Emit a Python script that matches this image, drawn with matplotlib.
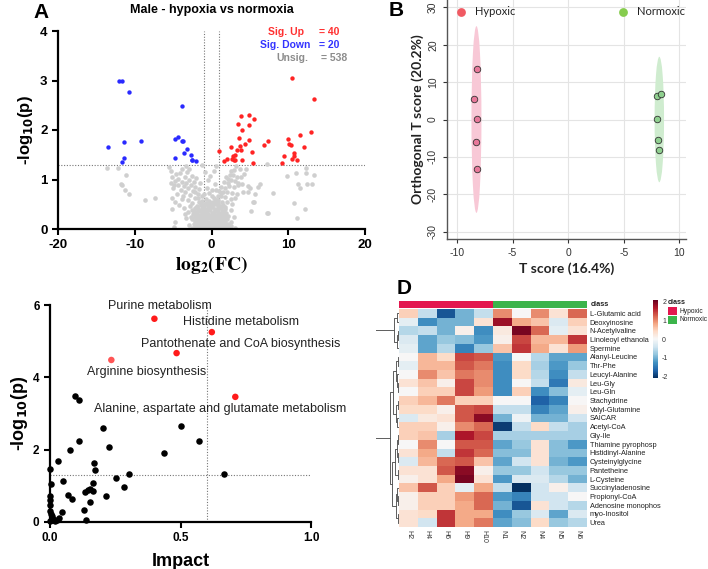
import matplotlib.pyplot as plt
import numpy as np
from matplotlib.patches import Ellipse, Rectangle
from matplotlib.colors import ListedColormap

plt.rcParams['font.family'] = ['Liberation Sans', 'DejaVu Sans']
plt.rcParams['axes.unicode_minus'] = False

# ---------------- A: volcano plot ----------------
up_x = [10.5, 13.4, 3.83, 4.83, 5.5, 4.9, 3.43, 3.96, 3.57, 4.83, 4.35, 3.74, 2.57, 0.96, 3.35,
        3.83, 5.3, 3.09, 2.74, 1.96, 1.61, 2.65, 2.91, 3.09, 3.96, 5.43, 6.83, 7.3, 10.0, 10.1,
        10.4, 11.5, 12.96, 12.0, 10.8, 10.7, 10.5, 9.4, 9.2, 11.1]
up_y = [3.06, 2.63, 2.28, 2.30, 2.22, 2.11, 2.13, 1.99, 1.83, 1.80, 1.71, 1.68, 1.66, 1.58, 1.59,
        1.59, 1.55, 1.50, 1.47, 1.42, 1.37, 1.42, 1.39, 1.39, 1.39, 1.34, 1.69, 1.78, 1.81, 1.71,
        1.70, 1.90, 1.95, 1.66, 1.53, 1.47, 1.42, 1.47, 1.34, 1.39]
down_x = [-12.04, -11.6, -10.7, -13.5, -11.4, -9.2, -11.4, -11.6, -3.8, -4.7,
          -4.35, -3.9, -3.7, -3.17, -3.57, -2.7, -4.8, -2.57, -2.48, -1.96]
down_y = [2.99, 3.0, 2.77, 1.66, 1.76, 1.78, 1.43, 1.35, 2.48, 1.81,
          1.85, 1.78, 1.78, 1.61, 1.53, 1.49, 1.43, 1.39, 1.39, 1.37]

gray_outer = [(-13.6, 1.23), (-12.2, 1.23), (-11.2, 1.10), (-11.8, 0.90), (-11.6, 0.88), (-11.3, 0.79),
              (-10.7, 0.70), (-8.7, 0.59), (-7.4, 0.63), (-5.6, 1.25), (-5.3, 1.18), (-5.1, 0.40),
              (-4.75, 0.15), (-4.9, 0.04), (7.2, 1.31), (9.9, 1.08), (11.0, 1.14), (12.3, 1.23),
              (12.3, 1.14), (13.3, 1.09), (11.3, 0.90), (11.5, 0.82), (12.5, 0.90), (13.1, 0.90),
              (8.0, 0.73), (10.7, 0.52), (12.2, 0.40), (11.2, 0.22), (7.3, 0.32), (5.6, 0.55),
              (5.1, 0.37), (4.8, 0.75), (6.3, 0.90), (6.1, 0.85), (5.65, 0.70), (5.0, 0.82),
              (4.5, 1.22), (3.7, 1.21), (4.2, 1.12), (3.9, 1.06), (4.15, 0.75), (4.0, 0.90),
              (4.8, 0.86), (3.3, 0.70), (3.1, 0.63), (3.5, 0.92), (5.45, 0.55), (7.2, 0.32)]
gray_left = [(-5.1, 1.06), (-5.0, 0.82), (-4.8, 0.97), (-4.6, 1.12), (-4.4, 0.88), (-4.3, 1.02),
             (-4.1, 1.13), (-4.0, 0.78), (-3.9, 0.95), (-3.8, 1.21), (-3.7, 0.66), (-3.6, 0.86),
             (-3.5, 1.05), (-3.4, 0.74), (-3.3, 0.93), (-3.2, 1.16), (-3.1, 0.58), (-3.0, 0.82),
             (-2.9, 1.00), (-2.8, 0.69), (-2.7, 0.88), (-2.6, 1.08), (-2.5, 0.52), (-2.4, 0.77),
             (-2.3, 0.95), (-2.2, 0.62), (-2.1, 0.84), (-2.0, 1.04), (-1.9, 0.47), (-1.8, 0.71),
             (-5.2, 0.63), (-4.7, 0.55), (-4.5, 0.71), (-4.2, 0.48), (-3.9, 0.60), (-3.6, 0.43),
             (-4.9, 0.88), (-5.3, 0.92), (-3.3, 1.27), (-2.9, 1.22)]
gray_right = [(3.2, 1.27), (2.9, 1.20), (2.8, 1.09), (2.6, 1.17), (2.5, 0.98), (2.4, 1.10), (2.3, 0.86),
              (2.2, 1.02), (2.1, 0.92), (2.0, 0.75), (1.9, 1.05), (1.8, 0.83), (1.7, 0.64), (1.6, 0.95),
              (1.5, 0.74), (1.4, 0.55), (1.3, 0.85), (1.2, 0.66), (1.1, 0.47), (1.0, 0.77), (0.9, 0.58),
              (0.8, 0.40), (2.7, 0.72), (2.5, 0.61), (2.9, 0.84), (3.0, 0.97), (3.3, 1.05), (2.0, 0.55),
              (1.8, 0.45), (1.6, 0.35), (3.4, 0.88), (2.7, 0.50)]
gray_mid = [(-1.3, 1.29), (-0.9, 1.15), (-0.5, 0.98), (0.3, 1.18), (-0.6, 0.82), (-1.0, 0.70),
            (0.0, 0.66), (0.4, 0.90), (-1.5, 0.92), (0.6, 1.28), (0.1, 0.78), (-0.2, 1.08)]
gray_core = [(-1.6, 0.55), (-1.2, 0.57), (-0.7, 0.53), (-0.3, 0.56), (0.2, 0.54), (0.6, 0.58),
             (-1.4, 0.48), (-1.0, 0.46), (-0.5, 0.49), (0.0, 0.47), (0.4, 0.50),
             (-2.1, 0.42), (-1.7, 0.41), (-1.3, 0.43), (-0.9, 0.40), (-0.4, 0.42), (0.1, 0.44), (0.5, 0.41), (1.2, 0.43),
             (-2.3, 0.36), (-1.9, 0.35), (-1.5, 0.37), (-1.1, 0.34), (-0.7, 0.36), (-0.2, 0.38), (0.3, 0.35),
             (0.7, 0.37), (1.0, 0.33), (1.4, 0.36),
             (-2.0, 0.30), (-1.6, 0.29), (-1.2, 0.31), (-0.8, 0.28), (-0.4, 0.30), (0.0, 0.32), (0.4, 0.29),
             (0.8, 0.31), (1.2, 0.28), (1.6, 0.30),
             (-2.2, 0.25), (-1.8, 0.24), (-1.4, 0.26), (-1.0, 0.23), (-0.6, 0.25), (-0.2, 0.27), (0.2, 0.24),
             (0.6, 0.26), (1.0, 0.23), (1.3, 0.25), (1.8, 0.26),
             (-2.5, 0.20), (-1.9, 0.19), (-1.5, 0.21), (-1.1, 0.18), (-0.7, 0.20), (-0.3, 0.22), (0.1, 0.19),
             (0.5, 0.21), (0.9, 0.18), (1.2, 0.20), (1.5, 0.19), (2.0, 0.21),
             (-2.0, 0.15), (-1.6, 0.14), (-1.2, 0.16), (-0.8, 0.13), (-0.4, 0.15), (0.0, 0.17), (0.3, 0.14),
             (0.7, 0.16), (1.1, 0.13), (1.4, 0.15), (1.8, 0.14),
             (-2.3, 0.10), (-1.7, 0.09), (-1.3, 0.11), (-0.9, 0.08), (-0.5, 0.10), (-0.1, 0.12), (0.2, 0.09),
             (0.6, 0.11), (1.0, 0.08), (1.3, 0.10), (1.7, 0.09), (2.2, 0.11),
             (-1.9, 0.06), (-1.5, 0.05), (-1.1, 0.07), (-0.7, 0.04), (-0.3, 0.06), (0.1, 0.05), (0.4, 0.07),
             (0.8, 0.04), (1.2, 0.06), (1.6, 0.05), (2.0, 0.07),
             (-2.6, 0.02), (-1.8, 0.01), (-1.4, 0.03), (-1.0, 0.02), (-0.6, 0.01), (-0.2, 0.03), (0.2, 0.02),
             (0.5, 0.01), (0.9, 0.03), (1.4, 0.02), (1.9, 0.01), (3.0, 0.02)]
gray_core2 = [(-1.4, 0.52), (-0.9, 0.51), (-0.1, 0.52), (0.4, 0.55), (0.9, 0.52), (-1.9, 0.45), (-1.1, 0.44),
              (-0.2, 0.45), (0.8, 0.46), (1.5, 0.48), (-2.6, 0.38), (-1.3, 0.38), (-0.5, 0.39), (0.5, 0.38),
              (1.7, 0.40), (-2.4, 0.31), (-1.0, 0.30), (0.2, 0.31), (1.0, 0.31), (1.9, 0.33), (-2.7, 0.25),
              (-1.2, 0.22), (0.4, 0.22), (1.5, 0.23), (2.2, 0.27), (-2.2, 0.16), (-1.0, 0.15), (0.5, 0.14),
              (1.6, 0.17), (2.5, 0.14), (-2.9, 0.08), (-1.5, 0.09), (0.4, 0.09), (1.5, 0.08), (2.6, 0.06),
              (-2.2, 0.04), (-0.9, 0.05), (0.6, 0.03), (2.3, 0.03), (-3.3, 0.22), (-3.0, 0.35), (-2.8, 0.47),
              (-3.5, 0.30), (2.6, 0.38), (2.9, 0.25), (-1.7, 0.63), (-1.2, 0.66), (-0.7, 0.61), (0.3, 0.63),
              (0.8, 0.67), (-2.1, 0.74), (1.3, 0.73), (-1.6, 0.80), (-0.3, 0.72), (0.6, 0.79)]

# ---------------- B: OPLS-DA scores ----------------
hyp_t = [-8.17, -8.5, -8.2, -8.3, -8.2]
hyp_o = [13.65, 5.4, 0.05, -6.1, -13.2]
nor_t = [8.0, 8.35, 7.95, 8.1, 8.15]
nor_o = [6.35, 6.9, 0.05, -5.4, -8.2]
b_xticks = [-10, -5, 0, 5, 10]
b_xlabels = ['-10', '-5', '0', '-5', '10']

# ---------------- C: pathway analysis ----------------
c_x = [0.096, 0.112, 0.203, 0.112, 0.227, 0.077, 0.032, 0.50, 0.572, 0.437, 0.668, 0.303, 0.167, 0.171,
       0.252, 0.285, 0.215, 0.166, 0.153, 0.144, 0.163, 0.134, 0.153, 0.130, 0.138, 0.084, 0.070, 0.049,
       0.046, 0.036, 0.0, 0.003, 0.0, 0.0, 0.0, 0.0, 0.003, 0.006, 0.013, 0.02, 0.0, 0.025, 0.01]
c_y = [3.49, 3.38, 2.59, 2.25, 2.06, 2.00, 1.68, 2.65, 2.23, 1.90, 1.34, 1.34, 1.64, 1.43,
       1.21, 0.97, 0.71, 1.09, 0.92, 0.89, 0.87, 0.83, 0.54, 0.34, 0.06, 0.63, 0.76, 1.13,
       0.28, 0.10, 1.47, 1.05, 0.71, 0.60, 0.48, 0.30, 0.23, 0.16, 0.08, 0.03, 0.03, 0.06, 0.05]
pathways = ['Purine metabolism', 'Histidine metabolism', 'Pantothenate and CoA biosynthesis',
            'Arginine biosynthesis', 'Alanine, aspartate and glutamate metabolism']
sig_x = [0.40, 0.62, 0.485, 0.235, 0.71]
sig_y = [5.62, 5.25, 4.67, 4.48, 3.46]

# ---------------- D: heatmap ----------------
samples = ['H2', 'H4', 'H6', 'H9', 'H10', 'N1', 'N2', 'N4', 'N5', 'N6']
metabolites = ['L-Glutamic acid', 'Deoxyinosine', 'N-Acetylvaline', 'Linoleoyl ethanola', 'Spermine',
               'Alanyl-Leucine', 'Thr-Phe', 'Leucyl-Alanine', 'Leu-Gly', 'Leu-Gln', 'Stachydrine',
               'Valyl-Glutamine', 'SAICAR', 'Acetyl-CoA', 'Gly-Ile', 'Thiamine pyrophosp',
               'Histidinyl-Alanine', 'Cysteinylglycine', 'Pantetheine', 'L-Cysteine',
               'Succinyladenosine', 'Propionyl-CoA', 'Adenosine monophos', 'myo-Inositol', 'Urea']
heat = [
    [0.5, -0.5, -1.8, -1.0, -0.5, 1.0, 0.0, 1.0, 0.3, 1.2],
    [-0.2, -1.3, -1.0, -1.0, 0.3, 1.8, 0.8, 0.6, -0.3, 0.5],
    [-0.6, -0.5, -1.0, 0.1, -1.3, 0.2, 2.0, 1.2, -0.2, 0.3],
    [-0.3, -1.1, -0.8, -0.9, -1.2, 0.1, 1.4, 0.7, 0.7, 1.5],
    [-0.2, -1.1, -0.6, -1.4, -0.8, 0.6, 1.5, 0.8, 0.3, 0.9],
    [0.0, 0.7, 0.4, 1.4, 1.3, -1.2, 0.0, -0.6, -1.1, -1.1],
    [-0.2, 0.7, 0.7, 1.3, 1.1, -1.3, 0.4, -0.7, -1.2, -0.8],
    [0.0, 1.0, 0.6, 1.1, 1.0, -1.3, 0.4, -0.6, -1.3, -0.5],
    [0.3, 0.6, 0.1, 1.4, 1.0, -1.3, 0.0, -0.5, -1.5, 0.2],
    [0.0, 0.5, 0.5, 1.4, 0.9, -1.3, 0.5, -1.3, -0.9, -0.2],
    [0.5, 0.7, 1.1, 0.5, 0.5, 0.0, 0.0, -1.7, -1.4, 0.0],
    [0.4, 0.4, 0.1, 1.3, 1.4, -0.5, -0.5, -1.4, -1.1, 0.1],
    [-0.3, 0.2, 0.3, 1.3, 1.9, -1.0, -0.1, -1.0, -1.0, -0.4],
    [0.5, 0.5, 0.1, 1.0, 1.2, -2.0, -0.5, 0.4, -0.5, -0.7],
    [0.5, 0.6, -0.7, 1.7, 1.4, -0.7, -0.7, -0.7, -0.7, -0.7],
    [0.0, 1.0, 0.0, 1.3, 1.3, -1.1, -0.8, 0.3, -0.9, -1.2],
    [0.3, 0.8, -0.5, 1.5, 1.2, -0.9, -0.9, 0.3, -0.9, -0.9],
    [-0.3, 0.7, 1.2, 1.3, 0.6, -1.1, -0.4, 0.3, -1.0, -1.2],
    [0.3, 0.3, 1.3, 1.9, 0.1, -0.8, -0.8, -0.4, -0.8, -0.8],
    [0.1, 0.3, 0.8, 2.0, 0.3, -1.2, -0.3, -0.3, -0.6, -1.0],
    [0.6, 1.3, 0.5, -0.2, 0.8, -0.5, -2.1, -0.4, 0.1, -0.4],
    [0.1, 0.5, 0.5, 0.9, 1.2, -1.2, -1.4, -0.4, -0.4, 0.0],
    [0.1, 0.5, 0.5, 0.8, 1.2, -1.0, -1.8, 0.3, -0.4, -0.6],
    [0.3, 0.4, 1.5, 0.8, 0.8, -1.3, -0.8, -0.3, -1.1, -0.3],
    [0.3, -0.4, 1.5, 0.8, 1.1, -1.1, -0.9, 0.4, -0.8, -0.6],
]
sample_class = [0, 0, 0, 0, 0, 1, 1, 1, 1, 1]
# row dendrogram: (left, right, height)
top_tree = ((0, 1, 1.5), ((2, 3, 1.2), 4, 2.2), 5)
sub_a = (((5, 6, 1), (7, (8, 9, 0.8), 1.5), 2.5), ((10, 11, 1.2), (12, 13, 1.5), 2.5), 6)
sub_b = ((((14, 15, 1), (16, 17, 1.2), 2.2), (18, 19, 0.8), 3.5), ((20, (21, 22, 0.8), 1.8), (23, 24, 1.2), 3), 6.5)
row_tree = (top_tree, (sub_a, sub_b, 9), 40)

W, H = 708, 569
fig = plt.figure(figsize=(W / 100, H / 100), dpi=100)


def box(l, t, r, b):
    return [l / W, 1 - b / H, (r - l) / W, (b - t) / H]


# ---- panel A
axA = fig.add_axes(box(58, 31, 365, 229))
gray = gray_outer + gray_left + gray_right + gray_mid + gray_core + gray_core2
axA.scatter([p[0] for p in gray], [p[1] for p in gray], s=11, color='#cfcfcf', lw=0, zorder=2)
axA.scatter(up_x, up_y, s=10, color='#ff2424', lw=0, zorder=3)
axA.scatter(down_x, down_y, s=10, color='#2a2aff', lw=0, zorder=3)
for v in [-1, 1]:
    axA.axvline(v, color='#777777', ls=(0, (1, 1.5)), lw=0.8, zorder=1)
axA.axhline(1.3, color='#777777', ls=(0, (1, 1.5)), lw=0.8, zorder=1)
axA.set_xlim(-20, 20)
axA.set_ylim(0, 4)
axA.set_xticks([-20, -10, 0, 10, 20], ['-20', '-10', '0', '10', '20'], fontweight='bold')
axA.set_yticks([0, 1, 2, 3, 4], ['0', '1', '2', '3', '4'], fontweight='bold')
axA.tick_params(labelsize=9.5, width=1.5, length=4)
for s in ['top', 'right']:
    axA.spines[s].set_visible(False)
for s in ['left', 'bottom']:
    axA.spines[s].set_linewidth(1.6)
axA.set_title('Male - hypoxia vs normoxia', fontsize=9, fontweight='bold', pad=13)
axA.set_xlabel(r'$\mathbf{log_2(FC)}$', fontsize=14, math_fontfamily='stix', labelpad=2)
axA.set_ylabel(r'-log$_{\mathbf{10}}$(p)', fontsize=12, fontweight='bold', math_fontfamily='dejavusans', labelpad=4)
axA.text(7.4, 3.97, 'Sig. Up', color='#ff3030', fontsize=7.5, fontweight='bold', va='center')
axA.text(14.0, 3.97, '= 40', color='#ff3030', fontsize=7.5, fontweight='bold', va='center')
axA.text(6.3, 3.72, 'Sig. Down', color='#3434ff', fontsize=7.5, fontweight='bold', va='center')
axA.text(14.0, 3.72, '= 20', color='#3434ff', fontsize=7.5, fontweight='bold', va='center')
axA.text(8.5, 3.46, 'Unsig.', color='#8c8c8c', fontsize=7.5, fontweight='bold', va='center')
axA.text(14.3, 3.46, '= 538', color='#8c8c8c', fontsize=7.5, fontweight='bold', va='center')
fig.text(41 / W, 1 - 12 / H, 'A', fontsize=15, fontweight='bold', ha='center', va='center')

# ---- panel B
axB = fig.add_axes(box(447, 0, 686, 239))
axB.add_patch(Ellipse((-8.25, 0), 0.9, 50, fc='#f8c8d6', ec='none', zorder=1))
axB.add_patch(Ellipse((8.2, 0), 0.85, 33.6, fc='#cfeccf', ec='none', zorder=1))
axB.scatter(hyp_t, hyp_o, s=22, color='#e8789a', ec='#333333', lw=0.6, zorder=3)
axB.scatter(nor_t, nor_o, s=22, color='#8fd08f', ec='#333333', lw=0.6, zorder=3)
axB.scatter([-9.64], [28.8], s=40, color='#f05a63', lw=0, clip_on=False, zorder=3)
axB.text(-8.4, 28.8, 'Hypoxic', fontsize=8, va='center', color='#222222', family='Lato')
axB.scatter([4.9], [28.8], s=40, color='#86cc4e', lw=0, clip_on=False, zorder=3)
axB.text(6.2, 28.8, 'Normoxic', fontsize=8, va='center', color='#222222', family='Lato')
axB.set_xlim(-10.9, 10.6)
axB.set_ylim(-32, 32)
axB.set_xticks(b_xticks, b_xlabels)
axB.set_yticks([-30, -20, -10, 0, 10, 20, 30])
axB.tick_params(labelsize=7.5, colors='#333333', length=3, width=0.8)
for lab in axB.get_yticklabels():
    lab.set_rotation(90)
    lab.set_va('center')
axB.grid(True, color='#e4e4e4', lw=0.8, zorder=0)
axB.set_axisbelow(True)
for s in ['top', 'right']:
    axB.spines[s].set_visible(False)
for s in ['left', 'bottom']:
    axB.spines[s].set_color('#555555')
    axB.spines[s].set_linewidth(1.0)
axB.set_xlabel('T score (16.4%)', fontsize=10, fontweight='bold', family='Lato', color='#222222', labelpad=3)
axB.set_ylabel('Orthogonal T score (20.2%)', fontsize=10, fontweight='bold', family='Lato', color='#222222', labelpad=3)
fig.text(396 / W, 1 - 10 / H, 'B', fontsize=15, fontweight='bold', ha='center', va='center')

# ---- panel C
axC = fig.add_axes(box(50, 305, 311, 522))
axC.axvline(0.6, color='#777777', ls=(0, (1, 1.5)), lw=0.8, zorder=1)
axC.axhline(1.3, color='#777777', ls=(0, (1, 1.5)), lw=0.8, zorder=1)
axC.scatter(c_x, c_y, s=22, color='black', lw=0, zorder=3, clip_on=False)
axC.scatter(sig_x, sig_y, s=22, color=['#ff1a1a', '#ff1a1a', '#ff1a1a', '#ff5555', '#ff1a1a'],
            lw=0, zorder=3, clip_on=False)
label_xy = [(0.42, 5.98), (0.73, 5.54), (0.73, 4.91), (0.37, 4.16), (0.65, 3.13)]
for name, (lx, ly) in zip(pathways, label_xy):
    axC.text(lx, ly, name, fontsize=9, ha='center', va='center', color='#222222')
axC.set_xlim(0, 1)
axC.set_ylim(0, 6)
axC.set_xticks([0, 0.5, 1.0], ['0.0', '0.5', '1.0'], fontweight='bold')
axC.set_yticks([0, 2, 4, 6], ['0', '2', '4', '6'], fontweight='bold')
axC.tick_params(labelsize=8.5, width=1.5, length=4)
for s in ['top', 'right']:
    axC.spines[s].set_visible(False)
for s in ['left', 'bottom']:
    axC.spines[s].set_linewidth(1.6)
axC.set_xlabel('Impact', fontsize=13, fontweight='bold', labelpad=6)
axC.set_ylabel(r'-log$_{\mathbf{10}}$(p)', fontsize=13, fontweight='bold', math_fontfamily='dejavusans', labelpad=2)

# ---- panel D
cmap = plt.get_cmap('RdBu_r')
axH = fig.add_axes(box(399, 309, 587, 527))
im = axH.imshow(np.array(heat), cmap=cmap, vmin=-2.1, vmax=2.1, aspect='auto', interpolation='nearest')
axH.set_xticks(range(len(samples)), samples, rotation=270, fontsize=5, color='#333333')
axH.set_yticks(range(len(metabolites)), metabolites, fontsize=5.3, color='#222222')
axH.yaxis.tick_right()
axH.tick_params(length=0, pad=2)
for s in axH.spines.values():
    s.set_visible(False)

axK = fig.add_axes(box(399, 301, 587, 308))
axK.imshow([sample_class], cmap=ListedColormap(['#e3174f', '#3cb44b']), aspect='auto', interpolation='nearest')
axK.axis('off')
fig.text(591 / W, 1 - 304.5 / H, 'class', fontsize=5.3, fontweight='bold', va='center', color='#222222')

axDen = fig.add_axes(box(376, 309, 399, 527))
axDen.set_xlim(23, 0)
axDen.set_ylim(len(metabolites) - 0.5, -0.5)
axDen.axis('off')


def draw_tree(node):
    if isinstance(node, int):
        return node, 0
    (ya, ha), (yb, hb) = draw_tree(node[0]), draw_tree(node[1])
    h = node[2]
    axDen.plot([ha, h, h, hb], [ya, ya, yb, yb], color='#444444', lw=0.6, solid_capstyle='butt')
    return (ya + yb) / 2, h


draw_tree(row_tree)

cax = fig.add_axes(box(653, 300, 658, 378))
cb = fig.colorbar(im, cax=cax, ticks=[-2, -1, 0, 1, 2])
cb.outline.set_visible(False)
cax.tick_params(labelsize=5, length=0, pad=3, colors='#333333')

fig.text(668 / W, 1 - 303 / H, 'class', fontsize=5.2, fontweight='bold', va='center', color='#222222')
for i, (lab, col) in enumerate([('Hypoxic', '#e3174f'), ('Normoxic', '#3cb44b')]):
    y0 = 307 + i * 8.5
    fig.patches.append(Rectangle((668 / W, 1 - (y0 + 8) / H), 9 / W, 8 / H, transform=fig.transFigure,
                                 fc=col, ec='none'))
    fig.text(679 / W, 1 - (y0 + 4) / H, lab, fontsize=4.8, va='center', color='#222222')
fig.text(404 / W, 1 - 288 / H, 'D', fontsize=15, fontweight='bold', ha='center', va='center')

fig.savefig('out.png', dpi=100)
